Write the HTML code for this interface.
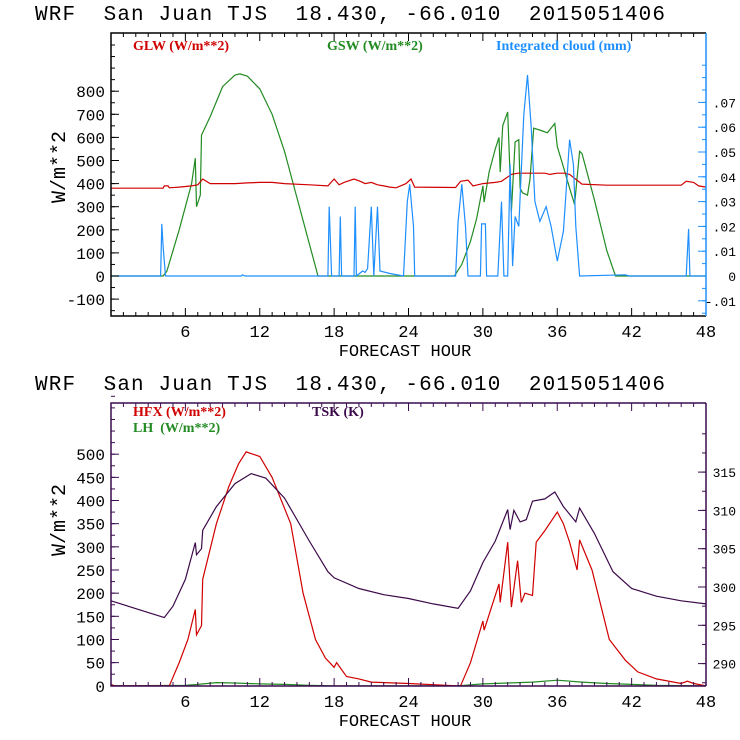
<!DOCTYPE html>
<html><head><meta charset="utf-8">
<style>
html,body{margin:0;padding:0;background:#fff;}
svg{display:block;}
.t{font-family:"Liberation Mono",monospace;}
.lg{font-family:"Liberation Serif",serif;font-weight:bold;font-size:14px;white-space:pre;}
.ttl{white-space:pre;}
</style></head>
<body>
<svg id="chart" width="740" height="740" viewBox="0 0 740 740" xmlns="http://www.w3.org/2000/svg">
<rect width="740" height="740" fill="#fff"/>
<g id="top"></g>
<g id="bot"></g>
</svg>
<script>
// ---- top panel data ----
const gswHours = [0,4.2,4.5,5,5.5,6,6.5,6.8,6.9,7.2,7.3,8,9,10,10.4,11,12,13,14,15,16,16.7,27.7,28.3,29,29.5,30,30.1,30.5,31,31.3,31.4,31.6,32,32.2,32.3,32.6,32.9,33,33.2,33.6,33.8,34.1,34.7,35.2,35.8,36,36.4,37,37.4,37.8,38,39,40,40.7,48];
const gswValues = [0,0,20,110,200,300,400,510,300,350,610,690,820,870,875,865,810,700,540,340,140,0,0,50,150,250,390,320,450,550,600,450,650,710,430,280,580,590,380,360,350,420,640,630,620,660,560,490,380,310,540,530,330,110,0,0];
const glwHours = [0,4.2,4.3,4.6,4.7,5.5,6.5,7,7.4,8,10,11,12,13,14,16,17.5,18,18.4,18.8,19.6,20.1,20.5,21,21.5,22,22.5,23,23.8,24.2,24.5,27.8,28.2,28.8,29.2,30,31,31.5,32.3,32.8,35,35.4,36,36.6,37,38,40,46,46.4,47,47.4,48];
const glwValues = [380,380,390,390,382,385,390,395,420,400,400,403,405,405,400,395,390,420,395,405,420,410,400,405,395,390,385,382,400,420,385,383,410,415,390,400,405,410,440,445,445,440,445,445,440,398,393,393,410,405,390,385];
const cloudHours = [0,4.0,4.1,4.2,4.4,10.5,10.6,10.8,17.5,17.6,17.8,18.4,18.5,18.6,19.6,19.7,19.8,20.3,20.5,20.7,21.0,21.2,21.5,21.7,22.5,23.6,23.9,24.1,24.4,24.5,27.8,28.0,28.3,28.6,28.8,29.8,29.9,30.2,30.3,31.2,31.5,31.7,32.0,32.2,32.4,32.6,32.9,33.3,33.6,33.9,34.2,34.6,35.1,35.5,36.0,36.5,37.0,37.3,37.5,37.8,41.5,41.8,46.4,46.6,46.7,48];
const cloudValues = [0,0,0.021,0.012,0,0,0.0005,0,0,0.028,0,0,0.024,0,0,0.028,0,0.002,0.0015,0.003,0.028,0,0.028,0.002,0.001,0,0.030,0.037,0.02,0,0,0.022,0.037,0.02,0,0,0.021,0.021,0,0,0.030,0,0,0.045,0.004,0.024,0.02,0.065,0.081,0.06,0.03,0.022,0.028,0.02,0.006,0.018,0.055,0.045,0.02,0,0.0005,0,0,0.019,0,0];
const topLeftTicks = [-100,0,100,200,300,400,500,600,700,800];
const topRightTicks = [-0.01,0,0.01,0.02,0.03,0.04,0.05,0.06,0.07];
const topRightLabels = ["-.01","0",".01",".02",".03",".04",".05",".06",".07"];
// ---- bottom panel data ----
const hfxHours = [0,0.3,4.7,5.5,6.2,6.8,6.9,7.3,7.4,8.5,9.5,10.3,10.9,12,13,14.5,15.5,16.5,17.3,18,18.2,19,20,21,24,27.9,28.2,29,30,30.1,31.3,31.4,32,32.3,32.8,33.1,33.4,34,34.3,35,36,36.5,37,37.6,37.8,38.8,40.2,41.5,42.5,44,46,46.5,47,48];
const hfxValues = [3,0,0,50,100,165,110,130,230,350,430,480,505,495,450,350,200,100,60,40,50,20,15,8,5,0,0,50,140,120,220,180,310,170,270,180,200,195,310,335,375,350,310,250,315,250,100,55,30,15,5,10,5,0];
const lhHours = [0,6,7,8.5,10,12,14,16,18,28,30,32,34,36,38,40,42,44,48];
const lhValues = [0,1,3,7,6,4,3,1,0,0,4,6,8,12,8,5,3,1,0];
const tskHours = [0,4.3,5,6,6.8,6.9,7.3,7.4,8.5,10,11.3,12.5,14,16,17.5,18,20,22,24,26,28,29,30,31,32,32.2,32.5,33,33.5,34,35,35.8,36.5,37.5,37.8,39,40.5,42,44,46,48];
const tskValues = [298.2,296.0,297.5,301,305.8,304.2,305,307.4,310.5,313.5,314.8,314.2,311.6,306,302,301.2,299.8,299,298.5,297.8,297.2,299.5,303.2,306,310.1,307.5,310,308.5,308.8,311.2,311.5,312.4,310.5,308.5,310.3,307,302,299.8,298.8,298.2,297.8];
const botLeftTicks = [0,50,100,150,200,250,300,350,400,450,500];
const botRightTicks = [290,295,300,305,310,315];
const xTicks = [6,12,18,24,30,36,42,48];

const NS="http://www.w3.org/2000/svg";
function mk(parent,tag,attrs,text){
  const e=document.createElementNS(NS,tag);
  for(const k in attrs)e.setAttribute(k,attrs[k]);
  if(text!==undefined)e.textContent=text;
  parent.appendChild(e);return e;
}
const X0=111,X1=706;
function xs(h){return X0+(X1-X0)*h/48;}

function panel(g,o){
  const y=o.y, yr=o.yr;
  o.series.forEach(s=>{
    const sc=s.right?yr:y;
    let d="";
    s.h.forEach((h,i)=>{d+=(i?"L":"M")+xs(h).toFixed(1)+","+sc(s.v[i]).toFixed(1);});
    const p=mk(g,"path",{d:d,fill:"none",stroke:s.color,"stroke-width":1.2});
    
    
  });
  const f=mk(g,"path",{d:`M${X1},${o.top}H${X0}V${o.bot}H${X1}`,fill:"none",stroke:o.frame,"stroke-width":1.5});
  
  
  const rf=mk(g,"line",{x1:X1,y1:o.top,x2:X1,y2:o.bot,stroke:o.rframe,"stroke-width":1.5});
  
  
  for(let h=1;h<48;h++){
    const L=(h%6===0)?8:4;
    mk(g,"line",{x1:xs(h),y1:o.bot,x2:xs(h),y2:o.bot-L,stroke:o.frame,"stroke-width":1});
    mk(g,"line",{x1:xs(h),y1:o.top,x2:xs(h),y2:o.top+L,stroke:o.frame,"stroke-width":1});
  }
  xTicks.forEach(h=>{
    const t=mk(g,"text",{x:xs(h),y:o.bot+21,"text-anchor":"middle",class:"t","font-size":"17px",fill:"#000"},String(h));
    
    
  });
  o.lminor.forEach(v=>{mk(g,"line",{x1:X0,y1:y(v),x2:X0+4,y2:y(v),stroke:o.frame,"stroke-width":1});});
  o.lticks.forEach(v=>{
    mk(g,"line",{x1:X0,y1:y(v),x2:X0+8,y2:y(v),stroke:o.frame,"stroke-width":1});
    const t=mk(g,"text",{x:X0-6,y:y(v)+6,"text-anchor":"end",class:"t","font-size":"16px",fill:"#000"},String(v));
    
    
  });
  o.rminor.forEach(v=>{mk(g,"line",{x1:X1,y1:yr(v),x2:X1-4,y2:yr(v),stroke:o.rframe,"stroke-width":1});});
  o.rticks.forEach((v,i)=>{
    mk(g,"line",{x1:X1,y1:yr(v),x2:X1-8,y2:yr(v),stroke:o.rframe,"stroke-width":1});
    const t=mk(g,"text",{x:X1+30,y:yr(v)+5,"text-anchor":"end",class:"t","font-size":"13px",fill:"#000"},o.rlabels[i]);
    
    
  });
  const ti=mk(g,"text",{x:35,y:o.top-13,class:"t ttl","font-size":"21px",fill:"#000",textLength:"630",lengthAdjust:"spacing"},"WRF  San Juan TJS  18.430, -66.010  2015051406");
  
  
  const xl=mk(g,"text",{x:405,y:o.bot+40,"text-anchor":"middle",class:"t","font-size":"17px",fill:"#000"},"FORECAST HOUR");
  
  
  const yl=mk(g,"text",{x:0,y:0,"text-anchor":"middle",class:"t","font-size":"20px",fill:"#000",transform:`translate(${o.ytx},${o.yty}) rotate(-90)`},"W/m**2");
  
  
  o.legend.forEach(l=>{
    const t=mk(g,"text",{x:l.x,y:l.y,class:"lg",fill:l.c},l.t);
    
    
  });
}

const ty=v=>276-v*0.231, tyr=v=>276-v*2480;
const tlm=[];for(let v=-150;v<=1000;v+=50)tlm.push(v);
const trm=[];for(let v=-0.015;v<=0.09;v+=0.005)trm.push(v);
panel(document.getElementById("top"),{top:33,bot:316,y:ty,yr:tyr,frame:"#000",rframe:"#1e90ff",
  lticks:topLeftTicks,lminor:tlm,rticks:topRightTicks,rlabels:topRightLabels,rminor:trm,
  ytx:65,yty:167,
  series:[
    {name:"gsw-line",h:gswHours,v:gswValues,color:"#228b22"},
    {name:"glw-line",h:glwHours,v:glwValues,color:"#d00000"},
    {name:"cloud-line",h:cloudHours,v:cloudValues,color:"#1e8fff",right:true}],
  legend:[{x:133,y:50,t:"GLW (W/m**2)",c:"#d00000"},{x:327,y:50,t:"GSW (W/m**2)",c:"#228b22"},{x:496,y:50,t:"Integrated cloud (mm)",c:"#1e8fff"}]});
const by=v=>685.8-v*0.4632, byr=v=>663.6-(v-290)*7.66;
const blm=[];for(let v=25;v<=650;v+=25)blm.push(v);
const brm=[];for(let v=287.5;v<=322;v+=2.5)brm.push(v);
panel(document.getElementById("bot"),{top:403,bot:686,y:by,yr:byr,frame:"#3a0b4f",rframe:"#3a0b4f",
  lticks:botLeftTicks,lminor:blm,rticks:botRightTicks,rlabels:botRightTicks.map(String),rminor:brm,
  ytx:65,yty:520,
  series:[
    {name:"lh-line",h:lhHours,v:lhValues,color:"#228b22"},
    {name:"hfx-line",h:hfxHours,v:hfxValues,color:"#d00000"},
    {name:"tsk-line",h:tskHours,v:tskValues,color:"#3c0a4a",right:true}],
  legend:[{x:133,y:416,t:"HFX (W/m**2)",c:"#d00000"},{x:312,y:416,t:"TSK (K)",c:"#3c0a4a"},{x:133,y:432,t:"LH  (W/m**2)",c:"#228b22"}]});
</script>
</body></html>
